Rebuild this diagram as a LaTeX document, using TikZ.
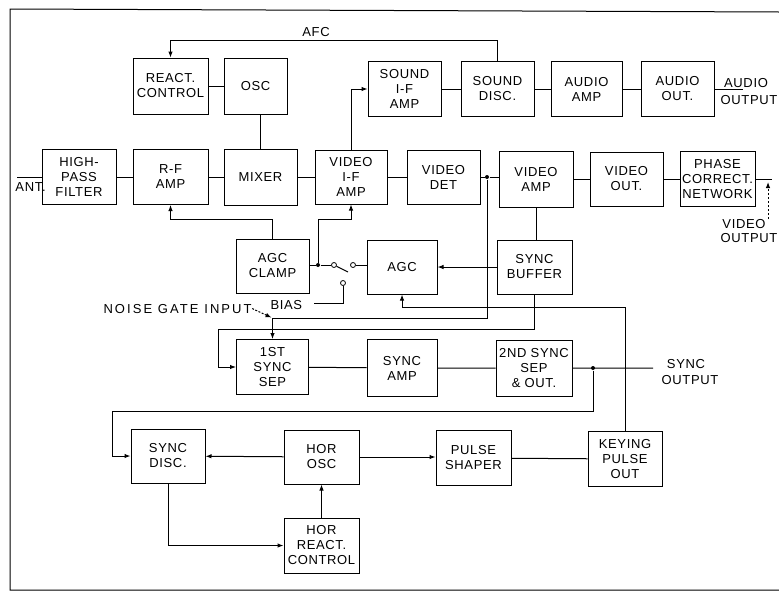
\documentclass[tikz,border=0pt]{standalone}
\usepackage{fontspec}
\setmainfont{Liberation Sans}[LetterSpace=5]
\usetikzlibrary{arrows.meta}
\begin{document}
\begin{tikzpicture}[x=1pt,y=-1pt,line width=1pt,
  blk/.style={draw,rectangle,inner sep=1pt,align=center,font=\fontsize{13}{15}\selectfont},
  lbl/.style={inner sep=0pt,font=\fontsize{13}{15}\selectfont},
  arr/.style={-{Latex[length=6pt,width=4.5pt]}},
  jdot/.style={circle,fill,inner sep=0pt,minimum size=4pt},
  ring/.style={circle,draw,fill=white,inner sep=0pt,minimum size=5pt,line width=0.8pt}]
\useasboundingbox (0,0) rectangle (779,592);
% frame
\draw (779,12) -- (10,9) -- (10,590) -- (779,590);
% top rows
\node[blk,minimum width=75,minimum height=56] (react) at (170.5,86) {REACT.\\CONTROL};
\node[blk,minimum width=63,minimum height=56] (osc) at (255.5,86) {OSC};
\node[blk,minimum width=73,minimum height=55] (sif) at (404.5,89) {SOUND\\I-F\\AMP};
\node[blk,minimum width=73,minimum height=55] (sdisc) at (497.5,89) {SOUND\\DISC.};
\node[blk,minimum width=71,minimum height=55] (aamp) at (586.5,89) {AUDIO\\AMP};
\node[blk,minimum width=73,minimum height=55] (aout) at (677.5,89) {AUDIO\\OUT.};
% main chain
\node[blk,minimum width=74,minimum height=55] (hpf) at (79,177) {HIGH-\\PASS\\FILTER};
\node[blk,minimum width=75,minimum height=55] (rf) at (170.5,177) {R-F\\AMP};
\node[blk,minimum width=73,minimum height=56] (mixer) at (260.5,177) {MIXER};
\node[blk,minimum width=72,minimum height=54] (vif) at (351,177) {VIDEO\\I-F\\AMP};
\node[blk,minimum width=73,minimum height=54] (vdet) at (443.5,177) {VIDEO\\DET};
\node[blk,minimum width=74,minimum height=56] (vamp) at (536,179) {VIDEO\\AMP};
\node[blk,minimum width=73,minimum height=54] (vout) at (626.5,179) {VIDEO\\OUT.};
\node[blk,minimum width=75,minimum height=55] (phase) at (717.5,179) {PHASE\\CORRECT.\\NETWORK};
% agc row
\node[blk,minimum width=73,minimum height=54] (agcclamp) at (272.5,266) {AGC\\CLAMP};
\node[blk,minimum width=70,minimum height=54] (agc) at (402,267) {AGC};
\node[blk,minimum width=75,minimum height=54] (syncbuf) at (534.5,267) {SYNC\\BUFFER};
% sync sep row
\node[blk,minimum width=72,minimum height=55] (sep1) at (272.5,367) {1ST\\SYNC\\SEP};
\node[blk,minimum width=70,minimum height=57] (syncamp) at (402,368) {SYNC\\AMP};
\node[blk,minimum width=76,minimum height=56] (sep2) at (534,368) {2ND SYNC\\SEP\\\& OUT.};
% bottom rows
\node[blk,minimum width=74,minimum height=54] (syncdisc) at (168,456) {SYNC\\DISC.};
\node[blk,minimum width=75,minimum height=54] (horosc) at (321.5,457) {HOR\\OSC};
\node[blk,minimum width=75,minimum height=55] (pshaper) at (473.5,458) {PULSE\\SHAPER};
\node[blk,minimum width=74,minimum height=55] (keying) at (625,459) {KEYING\\PULSE\\OUT};
\node[blk,minimum width=75,minimum height=55] (horreact) at (321.5,545.5) {HOR\\REACT.\\CONTROL};
% labels
\node[lbl,anchor=base] (afc) at (316,36) {AFC};
\node[lbl,anchor=base] (ao1) at (746,87) {AUDIO};
\node[lbl,anchor=base] (ao2) at (749,104) {OUTPUT};
\node[lbl,anchor=base] (vo1) at (744,228) {VIDEO};
\node[lbl,anchor=base] (vo2) at (749,242) {OUTPUT};
\node[lbl,anchor=base] (so1) at (686,368) {SYNC};
\node[lbl,anchor=base] (so2) at (690,384) {OUTPUT};
\node[lbl,anchor=base west] (antl) at (15,191) {ANT.};
\node[lbl,anchor=base west,font=\fontsize{13}{15}\selectfont\addfontfeatures{LetterSpace=16}] (noise) at (103,313) {NOISE GATE INPUT};
\node[lbl,anchor=base west] (bias) at (270,309) {BIAS};
% coordinates
\coordinate (ant) at (17,177);
\coordinate (aoend) at (743,89);
\coordinate (voend) at (772,179);
\coordinate (vtail) at (768,219);
\coordinate (vtip) at (768,182);
\coordinate (soend) at (653,368);
\coordinate (l1) at (218,367);
\coordinate (l2) at (112,456);
\coordinate (ngc) at (272.5,318);
\coordinate (blade) at (348,272);
\coordinate (biasend) at (314,303);
% top connections
\draw (react) -- (osc);
\draw (osc.south -| mixer.north) -- (mixer.north);
\draw (sif) -- (sdisc) -- (aamp) -- (aout) -- (aoend);
\draw[arr] (sdisc.north) -- (sdisc.north |- 0,40) -| (react.north);
\draw[arr] (vif.north) |- (sif.west);
% main chain
\draw (ant) -- (hpf);
\draw (hpf) -- (rf) -- (mixer) -- (vif) -- (vdet);
\node[jdot] (vd) at (487,177) {};
\draw (vdet) -- (vd) -- (vd -| vamp.west);
\draw (vamp) -- (vout) -- (phase) -- (voend);
\draw[arr,dash pattern=on 2pt off 2pt] (vtail) -- (vtip);
% agc
\node[jdot] (jd) at (318,265) {};
\node[ring] (piv) at (334,265) {};
\node[ring] (c1) at (353,265) {};
\node[ring] (c2) at (343,283) {};
\draw (agcclamp.east |- jd) -- (jd) -- (piv);
\draw (piv) -- (blade);
\draw (c1) -- (c1 -| agc.west);
\draw (c2) -- (c2 |- biasend) -- (biasend);
\draw[arr] (agcclamp.north) -- (agcclamp.north |- 0,219) -| (rf.south);
\draw[arr] (jd) -- (jd |- 0,219) -| (vif.south);
\draw[arr] (syncbuf) -- (agc);
\draw (vamp.south) -- (vamp.south |- syncbuf.north);
\draw[arr] (vd) -- (vd |- ngc) -| (sep1.north);
\draw[arr,dash pattern=on 2pt off 1.5pt,shorten >=1pt] (noise.east) -- (ngc);
\draw[arr] (syncbuf.south) -- (syncbuf.south |- 0,329) -| (l1) -- (sep1.west);
\draw[arr] (keying.north) -- (keying.north |- 0,307) -| (agc.south);
% sync sep
\draw (sep1) -- (syncamp) -- (sep2) -- (soend);
\node[jdot] (sd) at (593,368) {};
\draw[arr] (sd) -- (sd |- 0,411) -| (l2) -- (syncdisc.west);
% bottom
\draw[arr] (horosc) -- (syncdisc);
\draw[arr] (horosc) -- (pshaper.west |- horosc);
\draw (pshaper) -- (keying);
\draw[arr] (syncdisc.south) |- (horreact.west);
\draw[arr] (horreact) -- (horosc);
\end{tikzpicture}
\end{document}
